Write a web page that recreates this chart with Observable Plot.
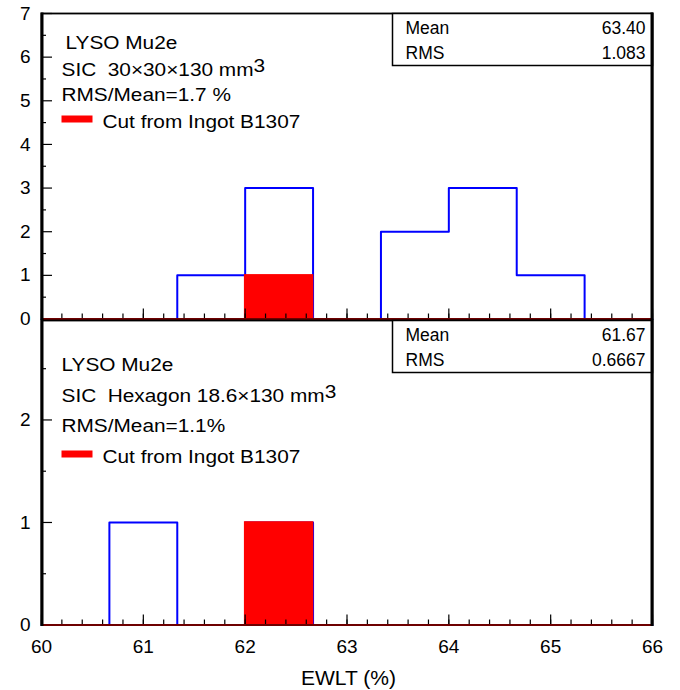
<!DOCTYPE html>
<html>
<head>
<meta charset="utf-8">
<script src="https://cdn.jsdelivr.net/npm/d3@7"></script>
<script src="https://cdn.jsdelivr.net/npm/@observablehq/plot@0.6"></script>
<style>
  body { margin: 0; background: #fff; }
  #chart { position: relative; width: 680px; height: 690px; }
  #chart svg { position: absolute; left: 0; font-family: "Liberation Sans", Arial, Helvetica, sans-serif; }
</style>
</head>
<body>
<div id="chart"></div>
<script>
// EWLT (%) histogram binning: 9 bins of width 2/3 from 60 to 66
const binEdges = [60, 60.66667, 61.33333, 62, 62.66667, 63.33333, 64, 64.66667, 65.33333, 66];

// Entries per bin, 30x30x130 mm^3 crystals
const countsSquare = [0, 0, 1, 3, 0, 2, 3, 1, 0];
const ingotSquare  = [0, 0, 0, 1, 0, 0, 0, 0, 0];

// Entries per bin, hexagon 18.6x130 mm^3 crystals
const countsHex = [0, 1, 0, 1, 0, 0, 0, 0, 0];
const ingotHex  = [0, 0, 0, 1, 0, 0, 0, 0, 0];

// Axis ticks
const xTicks = [60, 61, 62, 63, 64, 65, 66];
const yTicksSquare = [0, 1, 2, 3, 4, 5, 6, 7];
const yTicksHex = [0, 1, 2];

// Panel annotations
const labelsSquare = ["LYSO Mu2e", "SIC\u00a0 30×30×130 mm", "RMS/Mean=1.7 %"];
const labelsHex = ["LYSO Mu2e", "SIC\u00a0 Hexagon 18.6×130 mm", "RMS/Mean=1.1%"];
const legendLabel = "Cut from Ingot B1307";
const statNames = ["Mean", "RMS"];
const xTitle = "EWLT (%)";

const W = 680, ML = 41, MR = 28;
const plotW = W - ML - MR;
const FONT = '"Liberation Sans", Arial, Helvetica, sans-serif';

function bins(counts) {
  return counts.map((c, i) => ({x1: binEdges[i], x2: binEdges[i + 1], c})).filter(d => d.c > 0);
}

// step outline of a histogram
function outline(counts) {
  const pts = [{x: binEdges[0], y: 0}];
  counts.forEach((c, i) => pts.push({x: binEdges[i], y: c}, {x: binEdges[i + 1], y: c}));
  pts.push({x: binEdges[binEdges.length - 1], y: 0});
  return pts;
}

function stats(counts) {
  const centers = counts.map((c, i) => (binEdges[i] + binEdges[i + 1]) / 2);
  const n = d3.sum(counts);
  const mean = d3.sum(counts, (c, i) => c * centers[i]) / n;
  const rms = Math.sqrt(d3.sum(counts, (c, i) => c * (centers[i] - mean) ** 2) / n);
  return [mean, rms];
}
const fmt = d3.format(".4r");

function range(a, b, step) {
  const out = [];
  for (let i = 0; a + i * step <= b + 1e-9; i++) out.push(+(a + i * step).toFixed(4));
  return out;
}

function panel(cfg) {
  const plotH = cfg.height - cfg.marginTop - cfg.marginBottom;
  const [mean, rms] = stats(cfg.counts);
  const yMax = cfg.yDomain[1];
  const yMinor = range(0.5, yMax, 1);
  const xMinor = range(60, 66, 0.2);
  const marks = [
    Plot.line(outline(cfg.counts), {x: "x", y: "y", stroke: "#0000ff", strokeWidth: 2}),
    Plot.rectY(bins(cfg.ingot), {x1: "x1", x2: "x2", y: "c", fill: "#ff0000", stroke: "#ff0000", strokeWidth: 1.5}),
    Plot.ruleY([0], {stroke: "#6e0000", strokeWidth: 2}),
    // inward ticks
    Plot.tickX(xMinor, {x: d => d, insetTop: plotH - 5, stroke: "#000", strokeWidth: 1.2}),
    Plot.tickX(xTicks, {x: d => d, insetTop: plotH - 10, stroke: "#000", strokeWidth: 1.2}),
    Plot.tickY(yMinor, {y: d => d, insetRight: plotW - 5, stroke: "#000", strokeWidth: 1.2}),
    Plot.tickY(cfg.yTicks.filter(v => v > 0), {y: d => d, insetRight: plotW - 11, stroke: "#000", strokeWidth: 1.2}),
    Plot.axisY(cfg.yTicks, {tickSize: 0, tickPadding: 11, fontSize: 19, label: null, tickFormat: d3.format("d")}),
    Plot.frame({stroke: "#000", strokeWidth: 1.8}),
    Plot.ruleY([0], {stroke: "#6e0000", strokeWidth: 2}),
    // statistics box
    Plot.frame({insetLeft: 351, insetBottom: plotH - 52, fill: "white", stroke: "#000", strokeWidth: 1.5}),
    Plot.frame({insetLeft: plotW - 1, stroke: "#000", strokeWidth: 2}),
    Plot.frame({insetRight: plotW - 1, stroke: "#000", strokeWidth: 2}),
    // legend swatch
    Plot.frame({insetLeft: 20, insetRight: plotW - 51, insetTop: cfg.legendDy - 12, insetBottom: plotH - (cfg.legendDy - 5), fill: "#ff0000", stroke: "none"})
  ];
  if (cfg.showX) {
    marks.push(Plot.axisX(xTicks, {tickSize: 0, tickPadding: 14.2, fontSize: 19, label: null, tickFormat: d3.format("d")}));
    marks.push(Plot.text([xTitle], {frameAnchor: "bottom", dx: 1.5, dy: 59.5, lineAnchor: "bottom", fontSize: 19.5}));
  }
  [mean, rms].forEach((v, i) => {
    marks.push(Plot.text([statNames[i]], {frameAnchor: "top-left", dx: 364, dy: 20 + 25.5 * i, textAnchor: "start", lineAnchor: "bottom", fontSize: 17.5}));
    marks.push(Plot.text([fmt(v)], {frameAnchor: "top-right", dx: -7, dy: 20 + 25.5 * i, textAnchor: "end", lineAnchor: "bottom", fontSize: 17.5}));
  });
  cfg.labels.forEach((s, i) => {
    marks.push(Plot.text([s], {
      frameAnchor: "top-left", dx: cfg.labelDx[i], dy: cfg.labelDy[i],
      textAnchor: "start", lineAnchor: "bottom", fontSize: 17.5
    }));
  });
  marks.push(Plot.text([legendLabel], {frameAnchor: "top-left", dx: 61, dy: cfg.legendDy, textAnchor: "start", lineAnchor: "bottom", fontSize: 17.5}));

  const svg = Plot.plot({
    width: W, height: cfg.height,
    marginLeft: ML, marginRight: MR, marginTop: cfg.marginTop, marginBottom: cfg.marginBottom,
    x: {domain: [60, 66], axis: null},
    y: {domain: cfg.yDomain, axis: null},
    style: {fontFamily: FONT, fontSize: "18px", color: "#000", background: "transparent", overflow: "visible"},
    marks
  });
  svg.style.top = cfg.offset + "px";
  return svg;
}

function stretch(el, s) {
  const t = el.getAttribute("transform");
  if (t) el.setAttribute("transform", t + ` scale(${s},1)`);
  else {
    const x = parseFloat(el.getAttribute("x")) || 0, y = parseFloat(el.getAttribute("y")) || 0;
    el.removeAttribute("x"); el.removeAttribute("y");
    el.setAttribute("transform", `translate(${x},${y}) scale(${s},1)`);
  }
}

const chart = document.getElementById("chart");
const squarePanel = panel({
  offset: 0, height: 320, marginTop: 13, marginBottom: 1.5,
  yDomain: [0, 7], yTicks: yTicksSquare,
  counts: countsSquare, ingot: ingotSquare,
  labels: labelsSquare, labelDx: [24, 20, 20], labelDy: [35, 62, 87.5], legendDy: 114,
  showX: false
});
const hexPanel = panel({
  offset: 319, height: 371, marginTop: 1, marginBottom: 65.5,
  yDomain: [0, 2.97], yTicks: yTicksHex,
  counts: countsHex, ingot: ingotHex,
  labels: labelsHex, labelDx: [20, 20, 20], labelDy: [50, 81, 111], legendDy: 142,
  showX: true
});
chart.appendChild(squarePanel);
chart.appendChild(hexPanel);

// superscript exponent on the volume labels, and wider annotation lettering
const annotationTexts = new Set([...labelsSquare, ...labelsHex, legendLabel]);
for (const svg of [squarePanel, hexPanel]) {
  svg.querySelectorAll("text").forEach(el => {
    const s = el.textContent;
    if (annotationTexts.has(s)) {
      if (s.endsWith("mm")) {
        const ts = document.createElementNS("http://www.w3.org/2000/svg", "tspan");
        ts.setAttribute("dy", "-4");
        ts.textContent = "3";
        el.appendChild(ts);
      }
      stretch(el, 1.19);
    } else if (s === xTitle) {
      stretch(el, 1.08);
    }
  });
}
</script>
</body>
</html>
